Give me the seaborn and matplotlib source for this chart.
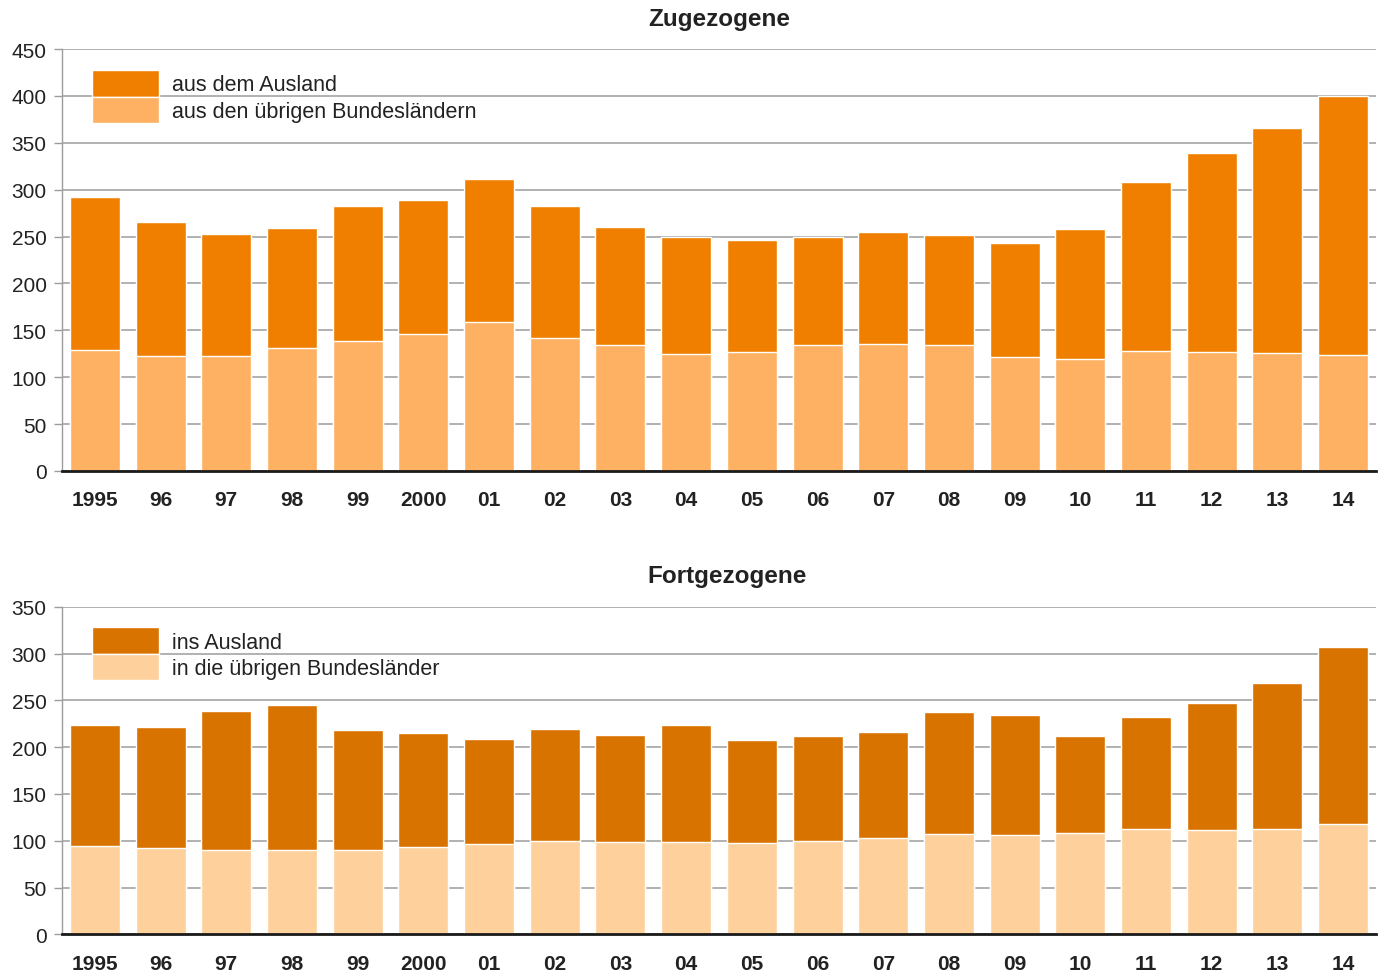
import matplotlib
matplotlib.use("Agg")
import matplotlib.pyplot as plt
import matplotlib.patches as mpatches
import pandas as pd
import seaborn as sns

sns.set_style("white")
plt.rcParams['font.family'] = ['Liberation Sans', 'DejaVu Sans']

# Jahre (Beschriftung wie im Original)
jahre = ["1995", "96", "97", "98", "99", "2000", "01", "02", "03", "04",
         "05", "06", "07", "08", "09", "10", "11", "12", "13", "14"]

# Zugezogene (in 1000): gesamt und davon aus den übrigen Bundesländern
zu_gesamt = [292, 266, 253, 259, 283, 289, 311, 283, 260, 250,
             246, 250, 255, 252, 243, 258, 308, 339, 366, 400]
zu_bundeslaender = [129, 123, 123, 131, 139, 146, 159, 142, 134, 125,
                    127, 134, 135, 134, 122, 119, 128, 127, 126, 124]

# Fortgezogene (in 1000): gesamt und davon in die übrigen Bundesländer
fort_gesamt = [224, 221, 239, 245, 218, 215, 209, 219, 213, 224,
               208, 212, 216, 238, 234, 212, 232, 247, 268, 307]
fort_bundeslaender = [94, 92, 90, 90, 90, 93, 97, 100, 99, 99,
                      98, 100, 103, 107, 106, 108, 113, 111, 112, 118]

zu_labels = ["aus dem Ausland", "aus den übrigen Bundesländern"]
fort_labels = ["ins Ausland", "in die übrigen Bundesländer"]

W, H = 1386, 978
fig = plt.figure(figsize=(W / 100, H / 100), dpi=100)

ax1 = fig.add_axes([62 / W, 1 - 472 / H, 1314 / W, 422 / H])
ax2 = fig.add_axes([62 / W, 1 - 935.3 / H, 1314 / W, 327.6 / H])


def panel(ax, gesamt, unten, farben, labels, titel, ymax, leg_y, titel_x=0.5):
    df = pd.DataFrame({"jahr": jahre, "gesamt": gesamt, "unten": unten})
    sns.barplot(data=df, x="jahr", y="gesamt", color=farben[0], saturation=1,
                width=0.76, edgecolor="white", linewidth=1, ax=ax)
    sns.barplot(data=df, x="jahr", y="unten", color=farben[1], saturation=1,
                width=0.76, edgecolor="white", linewidth=1, ax=ax)
    ax.set_ylim(0, ymax)
    ax.set_xlim(-0.5, len(jahre) - 0.5)
    ax.set_yticks(range(0, ymax + 1, 50))
    ax.set_xlabel("")
    ax.set_ylabel("")
    ax.set_axisbelow(True)
    ax.yaxis.grid(True, color="#9c9c9c", linewidth=1.1)
    for s in ["top", "right"]:
        ax.spines[s].set_visible(False)
    ax.spines["left"].set_color("#9c9c9c")
    ax.spines["left"].set_linewidth(1)
    ax.spines["bottom"].set_color("#1a1a1a")
    ax.spines["bottom"].set_linewidth(2)
    ax.tick_params(axis="y", length=6, width=1, color="#9c9c9c", pad=5,
                   labelsize=15, labelcolor="#222222", left=True)
    ax.tick_params(axis="x", length=0, pad=14, labelsize=15)
    for t in ax.get_xticklabels():
        t.set_fontweight("bold")
        t.set_color("#222222")
    ax.set_title(titel, fontsize=17.5, fontweight="bold", color="#222222",
                 pad=17.5, x=titel_x)
    handles = [mpatches.Patch(facecolor=farben[0], edgecolor="white", linewidth=1),
               mpatches.Patch(facecolor=farben[1], edgecolor="white", linewidth=1)]
    leg = ax.legend(handles, labels, loc="upper left",
                    bbox_to_anchor=(0.0228, leg_y), frameon=False,
                    fontsize=15.5, handlelength=3.1, handleheight=1.52,
                    handletextpad=0.6, labelspacing=0.0, borderpad=0,
                    borderaxespad=0)
    for t in leg.get_texts():
        t.set_color("#222222")


panel(ax1, zu_gesamt, zu_bundeslaender, ["#f07f00", "#feb163"],
      zu_labels, "Zugezogene", 450, 0.950)
panel(ax2, fort_gesamt, fort_bundeslaender, ["#d97300", "#fdd09c"],
      fort_labels, "Fortgezogene", 350, 0.937, titel_x=0.506)

fig.savefig("out.png", dpi=100)
